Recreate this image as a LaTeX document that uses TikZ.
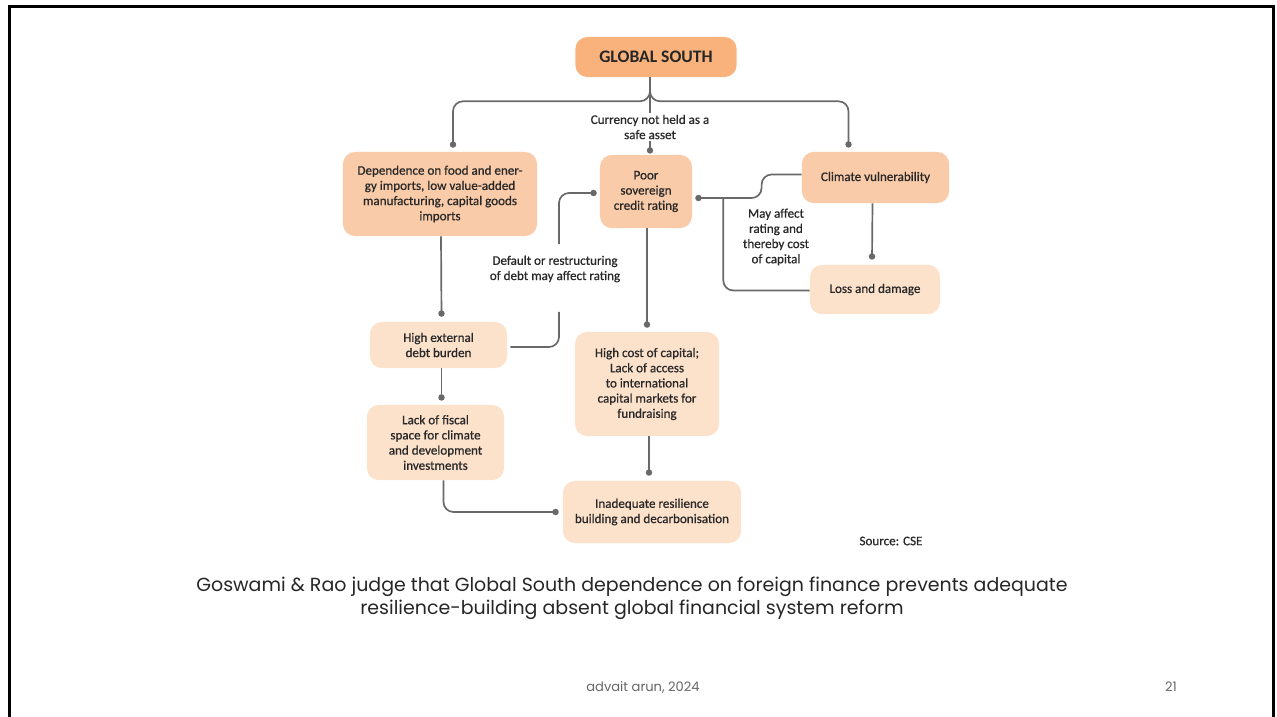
\documentclass[tikz,border=0pt]{standalone}
\usepackage{fontspec}
\setmainfont{Carlito}
\newfontfamily\boxfont[FakeBold=0.7]{Carlito}
\newfontfamily\capfont{Poppins}
\usepackage{tikz}
\usetikzlibrary{arrows.meta,positioning,calc}
\definecolor{gsorange}{RGB}{249,178,124}
\definecolor{boxpeach}{RGB}{249,203,168}
\definecolor{boxlight}{RGB}{252,225,203}
\definecolor{linegray}{RGB}{105,105,105}
\definecolor{txtdark}{RGB}{40,40,40}
\tikzset{
  basebox/.style={rectangle,rounded corners=0.3cm,align=center,inner sep=0pt,text=txtdark,font=\boxfont\fontsize{9.3}{10.8}\selectfont},
  topnode/.style={basebox,fill=gsorange,text=black!85,font=\fontsize{12.5}{14}\selectfont\bfseries},
  keynode/.style={basebox,fill=boxpeach},
  effnode/.style={basebox,fill=boxlight},
  lbl/.style={align=center,inner sep=1pt,text=txtdark,font=\boxfont\fontsize{9.3}{10.8}\selectfont},
  link/.style={line width=1.2pt,color=linegray,rounded corners=0.25cm},
  dotlink/.style={link,-{Circle[length=4.5pt]}}
}

\begin{document}
\begin{tikzpicture}[x=0.025cm,y=-0.025cm]
  \useasboundingbox (0,0) rectangle (1277,717);
  \draw[line width=2.2pt] (9.5,720) -- (9.5,6.5) -- (1273.5,6.5) -- (1273.5,720);

  %% Top
  \node[topnode,minimum width=4.03cm,minimum height=1.0cm] (gs) at (656,57) {GLOBAL SOUTH};

  %% First row
  \node[keynode,minimum width=4.85cm,minimum height=2.1cm] (dep) at (440,194)
      {Dependence on food and ener-\\gy imports, low value-added\\manufacturing, capital goods\\imports};
  \node[keynode,minimum width=2.3cm,minimum height=1.83cm] (poor) at (646,191.5)
      {Poor\\sovereign\\credit rating};
  \node[keynode,minimum width=3.68cm,minimum height=1.28cm] (clim) at (875.5,177.5)
      {Climate vulnerability};

  %% Effects
  \node[effnode,minimum width=3.43cm,minimum height=1.15cm] (hed) at (438.5,345)
      {High external\\debt burden};
  \node[effnode,minimum width=3.43cm,minimum height=1.88cm] (lfs) at (435.5,442.5)
      {Lack of fiscal\\space for climate\\and development\\investments};
  \node[effnode,minimum width=3.6cm,minimum height=2.6cm] (hcc) at (647,384)
      {High cost of capital;\\Lack of access\\to international\\capital markets for\\fundraising};
  \node[effnode,minimum width=3.25cm,minimum height=1.23cm] (loss) at (875,289.5)
      {Loss and damage};
  \node[effnode,minimum width=4.45cm,minimum height=1.55cm] (inad) at (652,512)
      {Inadequate resilience\\building and decarbonisation};

  %% Edge labels
  \node[lbl] (curr) at (650,127) {Currency not held as a\\safe asset};
  \node[lbl] (deflab) at (555,269) {Default or restructuring\\of debt may affect rating};
  \node[lbl] (maylab) at (776,237) {May affect\\rating and\\thereby cost\\of capital};
  \node[lbl] (src) at (891,541) {Source: CSE};

  %% Connectors
  \draw[dotlink] ($(gs.south)+(-6,0)$) -- ++(0,24) -| ($(dep.north)+(13,-4)$);
  \draw[dotlink] ($(gs.south)+(-6,0)$) -- ++(0,24) -| ($(clim.north)+(-27,-4)$);
  \draw[link] ($(gs.south)+(-6,0)$) -- (curr.north);
  \draw[dotlink] (curr.south) -- ($(poor.north)+(4,-1)$);
  \draw[dotlink] ($(dep.south)+(1,0)$) -- ($(hed.north)+(3,-5)$);
  \draw[dotlink] ($(hed.south)+(3,0)$) -- ($(lfs.north)+(6,-4)$);
  \draw[dotlink] ($(lfs.south)+(8,0)$) |- ($(inad.west)+(-4,0)$);
  \draw[link] ($(hed.east)+(3,2)$) -| ($(deflab.south)+(4,28)$);
  \draw[dotlink] ($(deflab.north)+(4,-10)$) |- ($(poor.west)+(-3,1.5)$);
  \draw[dotlink] ($(poor.south)+(1,0)$) -- ($(hcc.north)+(0,-4)$);
  \draw[dotlink] ($(hcc.south)+(2,0)$) -- ($(inad.north)+(-3,-5)$);
  \draw[dotlink] ($(clim.west)+(0,-3)$) -- ++(-40,0) |- ($(poor.east)+(3,6.5)$);
  \draw[link] ($(loss.west)+(0,1)$) -| ($(poor.east)+(31,6.5)$);
  \draw[dotlink] ($(clim.south)+(-3,0)$) -- ($(loss.north)+(-3,-5)$);

  %% Caption and footer
  \node[align=center,text=black!85,font=\capfont\fontsize{13.5}{16.3}\selectfont] (cap) at (632,598)
      {Goswami \& Rao judge that Global South dependence on foreign finance prevents adequate\\
       resilience-building absent global financial system reform};
  \node[text=black!60,font=\capfont\fontsize{9.3}{11}\selectfont] (foot) at (643,687) {advait arun, 2024};
  \node[text=black!60,font=\capfont\fontsize{9.3}{11}\selectfont] (pg) at (1171,687) {21};
\end{tikzpicture}
\end{document}
